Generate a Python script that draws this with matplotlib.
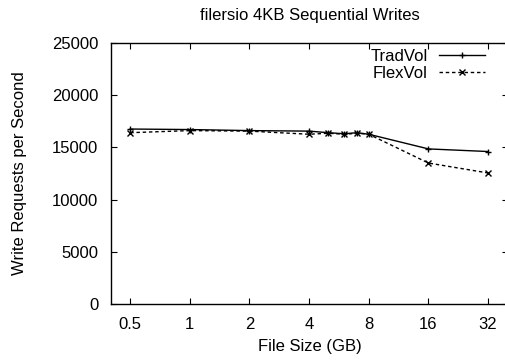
import matplotlib
matplotlib.use("Agg")
import matplotlib.pyplot as plt

plt.rcParams['font.family'] = ['Liberation Sans', 'DejaVu Sans']

# file sizes (GB) and write rates
file_size = [0.5, 1, 2, 4, 5, 6, 7, 8, 16, 32]
tradvol = [16750, 16700, 16600, 16550, 16400, 16300, 16400, 16250, 14850, 14600]
flexvol = [16400, 16600, 16550, 16250, 16350, 16250, 16350, 16250, 13500, 12550]

xticks = [0.5, 1, 2, 4, 8, 16, 32]
xtick_labels = ['0.5', '1', '2', '4', '8', '16', '32']
yticks = [0, 5000, 10000, 15000, 20000, 25000]

fig = plt.figure(figsize=(5.05, 3.6), dpi=100)
ax = fig.add_axes([0.2198, 0.1547, 0.786, 0.7267])

ax.plot(file_size, tradvol, color='black', lw=1.0, marker='+', ms=5, mew=1.0,
        label='TradVol')
ax.plot(file_size, flexvol, color='black', lw=1.0, ls=(0, (2.5, 2)), marker='x',
        ms=4, mew=1.0, label='FlexVol')

ax.set_xscale('log', base=2)
ax.set_xlim(0.4, 40.3)
ax.set_ylim(0, 25000)
ax.set_xticks(xticks)
ax.set_xticklabels(xtick_labels)
ax.minorticks_off()
ax.set_yticks(yticks)

ax.tick_params(direction='in', length=4, width=0.8, top=True, right=True,
               labelsize=12, pad=9)
for s in ax.spines.values():
    s.set_linewidth(1.0)

ax.set_title('filersio 4KB Sequential Writes', fontsize=12, pad=16)
ax.set_xlabel('File Size (GB)', fontsize=12, labelpad=5)
ax.set_ylabel('Write Requests per Second', fontsize=12, labelpad=18)

leg = ax.legend(loc='upper right', bbox_to_anchor=(0.943, 0.975), frameon=False,
                fontsize=12, markerfirst=False, handlelength=2.75,
                handletextpad=0.7, labelspacing=0.12, borderaxespad=0.0,
                borderpad=0.0)
for t in leg.get_texts():
    t.set_ha('right')

fig.savefig('out.png', dpi=100)
